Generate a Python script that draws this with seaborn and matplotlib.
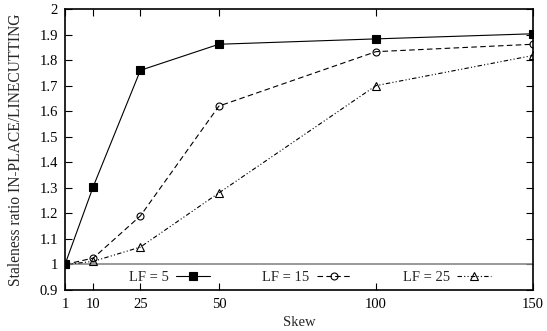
import matplotlib
matplotlib.use("Agg")
import matplotlib.pyplot as plt
import seaborn as sns
import numpy as np
import pandas as pd
from matplotlib.ticker import FormatStrFormatter

skew = [1, 10, 25, 50, 100, 150]
lf5 = [1.0, 1.305, 1.76, 1.862, 1.883, 1.903]
lf15 = [1.0, 1.025, 1.19, 1.62, 1.833, 1.862]
lf25 = [1.0, 1.012, 1.068, 1.28, 1.70, 1.818]
series_names = ["LF = 5", "LF = 15", "LF = 25"]
x_ticks = [1, 10, 25, 50, 100, 150]
y_ticks = [0.9, 1.0, 1.1, 1.2, 1.3, 1.4, 1.5, 1.6, 1.7, 1.8, 1.9, 2.0]

sns.set_style("ticks")
plt.rcParams['font.family'] = ['Liberation Serif', 'DejaVu Serif']
FS = 10.5
plt.rcParams['font.size'] = FS

fig = plt.figure(figsize=(5.47, 3.31), dpi=100)
ax = fig.add_axes([65/547, 1-290/331, (533-65)/547, (290-9)/331])

styles = [
    dict(marker='s', markersize=5.5, markerfacecolor='black', markeredgecolor='black', linestyle='-'),
    dict(marker='o', markersize=5, markerfacecolor='none', markeredgecolor='black', linestyle=(0, (5, 3))),
    dict(marker='^', markersize=5.5, markerfacecolor='none', markeredgecolor='black', linestyle=(0, (4, 2, 1, 2, 1, 2))),
]
for name, vals, st in zip(series_names, [lf5, lf15, lf25], styles):
    df = pd.DataFrame({"Skew": skew, "ratio": vals})
    sns.lineplot(data=df, x="Skew", y="ratio", ax=ax, color='black', linewidth=0.8,
                 label=name, markeredgewidth=0.8, **st)

ax.axhline(1.0, color='#888888', linewidth=1.2, zorder=1)

ax.set_xlim(1, 150)
ax.set_ylim(0.9, 2.0)
ax.set_xticks(x_ticks)
ax.set_yticks(y_ticks)
ax.yaxis.set_major_formatter(FormatStrFormatter('%g'))
ax.tick_params(direction='in', top=True, right=True, length=5, width=0.8, labelsize=FS,
               colors='black')
ax.tick_params(axis='x', pad=6)
ax.tick_params(axis='y', pad=5)
for s in ax.spines.values():
    s.set_linewidth(1.2)
    s.set_color('black')
ax.set_xlabel("Skew", fontsize=FS, labelpad=3)
ax.set_ylabel("Staleness ratio IN-PLACE/LINECUTTING", fontsize=11.2, labelpad=11)

leg = ax.legend(loc='center', bbox_to_anchor=((310-65)/468, 0.0455),
                ncol=3, frameon=False, markerfirst=False, handlelength=2.3,
                fontsize=FS, borderaxespad=0, handletextpad=0.5, columnspacing=3.6)

fig.savefig("out.png", dpi=100)
